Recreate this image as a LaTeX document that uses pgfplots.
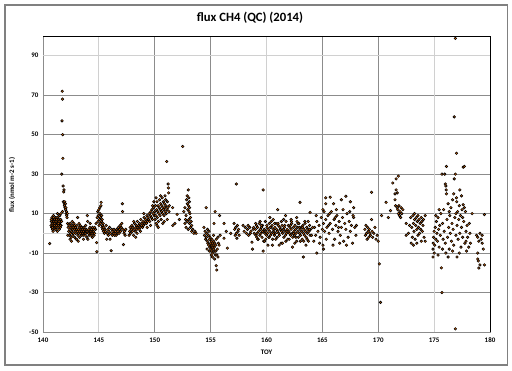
\documentclass[border=0pt]{standalone}
\usepackage{pgfplots}
\pgfplotsset{compat=1.18}
\usepackage{fontspec}
\setmainfont{Carlito}
\definecolor{dotorange}{HTML}{E46C0A}
\definecolor{gridgray}{HTML}{8C8C8C}
\definecolor{lightgrid}{HTML}{D0D0D0}
\pgfplotstableread{
x y
140.6 -5.2
140.72 4
140.75 6
140.78 3
140.8 8
140.82 5
140.85 2
140.88 7
140.9 4
140.93 9
140.95 6
140.98 3
141.0 5
141.02 7
141.05 4
141.08 2
141.1 6
141.12 8
141.15 5
141.18 3
141.2 7
141.22 4
141.25 6
141.28 1
141.3 5
141.32 8
141.35 3
141.38 6
141.4 4
141.42 7
141.45 2
141.48 5
141.5 9
141.52 6
141.55 3
141.58 7
141.6 10
141.62 4
140.74 7
140.84 3
140.96 8
141.06 5
141.16 2
141.26 8
141.36 5
141.46 9
141.56 4
141.66 6
140.9 1
141.3 10
141.72 72
141.74 68
141.7 57
141.76 50
141.78 38
141.68 30
141.8 24
141.85 21
141.88 22
141.82 16
141.9 15
141.92 14
141.95 16
141.97 13
142.0 15
142.02 12
142.05 13
142.08 10
142.1 11
142.12 9
142.15 8
142.18 10
141.75 11
142.2 5
142.25 3
142.3 1
142.33 4
142.37 -1
142.4 2
142.43 5
142.47 0
142.5 3
142.53 -2
142.57 1
142.6 4
142.63 2
142.67 -1
142.7 3
142.73 0
142.77 5
142.8 2
142.83 -2
142.87 1
142.9 3
142.93 0
142.97 -3
143.0 2
143.03 4
143.07 1
143.1 8
143.13 -1
143.17 2
143.2 0
143.23 3
143.27 -2
143.3 1
143.33 4
143.37 0
143.4 2
143.43 -1
143.47 1
143.5 3
143.53 0
143.57 2
143.6 -1
143.63 1
143.67 3
143.7 0
143.73 2
143.77 -1
143.8 1
143.83 0
143.87 2
143.9 1
143.93 -2
143.97 9
144.0 6
144.03 1
144.07 0
144.1 2
144.13 -1
144.17 1
144.2 3
144.23 0
144.27 1
144.3 -1
144.33 2
144.37 0
144.4 1
144.43 3
144.47 0
144.5 1
144.53 2
144.57 -1
144.6 0
142.22 -1
142.42 -3
142.62 6
142.82 4
143.02 -3
143.22 5
143.42 3
143.62 -3
143.82 4
144.02 -3
144.22 5
144.42 -2
144.62 3
143.15 -4
142.55 -4
144.7 2
144.75 5
144.8 -4.7
144.82 -9.3
144.85 8
144.9 11
144.92 6
144.95 9
145.0 12
145.02 4
145.05 7
145.08 13
145.1 10
145.12 5
145.15 8
145.18 14
145.2 15.7
145.22 6
145.25 9
145.28 3
145.3 7
145.32 4
145.35 2
145.38 5
145.4 1
145.45 3
145.5 0
145.55 2
145.6 1
145.65 4
145.7 -3
145.75 0
145.8 2
145.85 -1
145.9 1
145.95 3
146.0 -3
146.05 0
146.1 -8.8
146.15 2
146.2 -1
146.25 1
146.3 0
146.35 2
146.4 -1
146.45 0
146.5 1
146.55 -1
146.6 2
146.65 0
146.7 1
146.75 3
146.8 0
146.85 2
146.9 4
146.95 1
147.0 3
147.05 5
147.1 15
147.12 11
147.15 2
147.2 -5.7
147.25 0
147.3 1
147.35 -1
147.4 2
147.7 -1
147.75 1
147.8 3
147.85 0
147.9 2
147.95 4
148.0 1
148.05 3
148.1 -1
148.15 2
148.2 5
148.25 1
148.3 -2
148.32 3
148.35 4
148.4 2
148.45 6
148.5 3
148.55 4
148.6 2
148.65 5
148.7 3
148.75 7
148.8 4
148.85 5
148.9 3
148.95 6
149.0 4
149.05 8
149.1 5
149.15 6
149.2 7
149.25 5
149.3 9
149.35 6
149.4 8
149.45 7
149.5 10
149.55 6
149.6 9
149.65 11
149.7 8
149.75 12
149.8 7
149.85 10
149.9 13
149.95 9
148.12 6
148.42 0
148.72 1
149.02 10
149.32 3
149.62 4
149.92 16
150.12 18
150.32 3
150.52 19
150.72 5
150.92 19
151.12 7
150.2 4
150.85 6
149.8 14
150.0 11
150.03 7
150.07 14
150.1 9
150.13 5
150.17 12
150.2 16
150.23 8
150.27 11
150.3 14
150.33 6
150.37 10
150.4 13
150.43 17
150.47 9
150.5 12
150.53 15
150.57 7
150.6 11
150.63 14
150.67 18
150.7 10
150.73 13
150.77 16
150.8 12
150.83 9
150.87 15
150.9 13
150.93 11
150.97 17
151.0 14
151.03 10
151.07 36.4
151.1 12
151.13 16
151.17 13
151.2 25
151.22 23
151.24 20.5
151.27 11
151.3 14
151.6 13
151.62 4
151.8 5
152.0 9.6
152.2 7
152.5 44
152.6 11
152.7 13
152.8 9
152.85 17
152.9 19
152.92 15
152.95 12
153.0 22
153.02 14
153.05 18
153.08 11
153.1 16
153.12 13
153.15 10
153.2 8
153.25 6
153.3 4
152.7 5
152.75 7
152.8 3
152.9 6
153.0 2
153.1 5
153.2 3
153.3 1
153.4 2
153.5 0
153.6 1
153.7 0
153.05 7
154.4 3
154.45 -1
154.5 1
154.55 -3
154.6 13
154.62 -2
154.65 0
154.7 -4
154.72 2
154.75 -5
154.8 -1
154.82 -6
154.85 1
154.9 -3
154.92 -7
154.95 -2
155.0 -5
155.02 -8
155.05 -4
155.08 -6
155.1 -9
155.12 -3
155.15 -7
155.18 -5
155.2 -10
155.22 -6
155.25 -8
155.28 -4
155.3 5
155.32 -7
155.35 -9
155.38 -5
155.4 11
155.42 -11
155.45 -6
155.5 -16.4
155.55 -18.6
155.5 -3
155.6 -8
155.65 -2
155.7 -5
155.8 9
155.85 -1
154.88 -9
155.06 -11
155.16 -12
155.26 -1
155.36 -13
155.46 -9
154.68 -8
155.56 -11
155.66 -12
155.76 -6
156.2 5
156.2 -2.5
156.4 1
156.5 -7.5
156.8 0
157.3 25
157.1 5
157.15 2
157.2 -1
157.25 3
157.3 0
157.35 -2.5
157.4 4
157.45 1
157.5 2
157.55 -1
157.9 4
158.0 1
158.1 3
158.2 0
158.3 2
158.35 4
158.4 -1
158.5 3
158.55 0
158.6 1
158.7 -4.5
158.75 -8
158.8 2
158.85 3
158.9 0
159.0 2
159.05 -1
159.1 4
159.15 0
159.2 3
159.25 -3
159.3 1
159.35 5
159.4 -1
159.45 2
159.5 0
159.55 3
159.6 -2
159.65 4
159.7 1
159.75 -4
159.8 2
159.85 0
159.9 6
159.95 1
160.0 -1
160.05 3
160.1 0
160.15 2
160.2 -2
160.25 5
160.3 1
160.35 -1
160.4 3
160.45 0
160.5 4
160.55 -3
160.6 2
160.65 1
160.7 -1
160.75 3
160.8 0
160.85 5
160.9 2
160.95 -2
161.0 1
161.05 4
161.1 0
161.15 -1
161.2 3
161.25 2
161.3 -5
161.35 1
161.4 4
161.45 0
161.5 2
161.55 -2
161.6 3
161.65 1
161.7 -1
161.75 6
161.8 0
161.85 2
161.9 -3
161.95 4
162.0 1
162.05 0
162.1 3
162.15 -1
162.2 2
162.25 5
162.3 0
162.35 -2
162.4 3
162.45 1
162.5 -1
162.55 4
162.6 2
162.65 0
162.7 -4
162.75 3
162.8 1
162.85 -2
162.9 5
162.95 0
163.0 2
163.05 -1
163.1 3
163.15 1
163.2 -3
163.25 4
163.3 0
163.35 2
163.4 -1
163.45 5
163.5 1
163.55 -2
163.6 3
163.65 0
163.7 2
163.75 -4
163.8 1
163.85 4
163.9 -1
163.95 2
159.03 5
159.23 -3
159.43 6
159.63 1
159.83 -4
160.03 4
160.23 -2
160.43 6
160.63 0
160.83 -3
161.03 5
161.23 2
161.43 -5
161.63 4
161.83 1
162.03 -3
162.23 6
162.43 0
162.63 -2
162.83 5
163.03 -4
163.23 3
163.43 6
163.63 -3
163.83 2
164.03 -1
160.13 -6
161.13 -6
162.33 -7
163.53 -6
159.13 -2
159.53 4
159.93 -3
160.33 3
160.73 5
161.33 6
161.73 -4
162.13 4
162.53 -5
162.93 3
163.33 -4
163.73 6
164.13 3
164.23 -4
160.53 -6
161.53 7
162.73 6
159.7 22
159.7 -9
163.3 -12
161.0 12
163.0 15.7
163.9 10.6
160.3 8
160.6 7
162.2 7
161.7 9
162.7 8
164.3 3
164.4 -1
164.5 -10
164.5 6
164.6 1
164.7 4
164.8 -2
164.9 8
165.0 2
165.05 -6
165.1 -8
165.1 5
165.15 11
165.2 1
165.3 18
165.3 15
165.3 7
165.4 3
165.5 9
165.6 0
165.7 18.3
165.7 5
165.8 11
165.9 2
166.0 15
166.05 7
166.1 -3
166.2 4
166.3 9
166.4 1
166.5 6
166.6 -1
166.7 17
166.7 3
166.8 8
166.9 -4
167.0 5
167.1 18.8
167.1 2
167.2 10
167.3 -2
167.4 6
167.5 16
167.5 1
167.6 4
167.7 -5
167.8 13
167.8 8
167.9 3
168.0 -1
164.45 9
164.75 -5
165.05 12
165.35 -3
165.65 10
165.95 -6
166.25 12
166.55 -5
166.85 12
167.15 -6
167.45 11
167.75 9
168.05 4
166.15 8
166.45 3
165.55 4
168.8 2
168.85 -1
168.9 4
168.95 0
169.0 -3
169.05 3
169.1 1
169.15 -2
169.2 2
169.25 0
169.3 -1
169.4 7
169.4 20.8
169.45 1
169.5 -2
169.6 0
169.7 3
169.8 -3
169.9 -1
170.0 -4
170.1 -15.5
170.2 -35
170.3 9
170.7 15.7
170.9 8
171.1 11.5
171.3 25.5
171.5 20
171.5 17
171.55 14
171.6 27.6
171.6 22
171.7 13
171.7 20.5
171.75 12
171.8 29
171.8 10
171.85 14
171.9 9
171.95 11
172.0 8
172.05 13
172.1 10
172.2 12
172.5 -1
172.5 5
172.7 0
172.9 8
173.0 3
173.05 -2
173.1 9
173.15 5
173.2 1
173.25 7
173.3 -3
173.35 4
173.4 8
173.45 2
173.5 6
173.55 -1
173.6 3
173.65 7
173.7 0
173.75 5
173.8 2
173.85 -4
173.9 6
173.95 1
174.0 4
174.1 -2
174.2 -4
174.2 9
172.95 -5
173.25 10
173.55 9
173.85 8
173.15 -6
173.45 -5
174.05 7
172.8 4
174.9 -12
174.9 -8
174.92 -5
174.95 -2
175.0 -10
175.0 1
175.05 -6
175.1 3
175.15 -3
175.2 6
175.25 0
175.3 -4
175.35 8
175.4 2
175.45 -7
175.5 4
175.55 -1
175.6 10
175.65 -17.5
175.7 -30
175.7 30
175.75 5
175.8 -3
175.85 12
175.9 1
175.95 30
176.0 25
176.0 -5
176.05 24
176.08 22
176.1 20
176.1 33.9
176.15 7
176.2 -2
176.25 15
176.3 3
176.35 -8
176.4 9
176.45 0
176.5 13
176.55 -4
176.6 5
176.65 17
176.7 2
176.75 -6
176.8 27.6
176.8 59
176.85 8
176.9 98.8
176.9 -48.4
176.9 30
176.95 -1
177.0 40.6
177.0 18
177.02 16
177.05 4
177.1 11
177.15 -3
177.2 7
177.25 14
177.3 22
177.3 0
177.35 9
177.4 -7
177.45 3
177.5 12
177.55 -2
177.6 14.5
177.6 33.5
177.65 6
177.7 13
177.7 33.9
177.75 -5
177.8 11
177.85 1
177.9 -9
177.95 4
178.0 -2
178.1 -7
178.2 0
178.4 10
175.15 9
175.45 12
175.75 -8
176.05 -10
176.35 11
176.65 -9
176.95 10
177.25 -10
177.55 8
177.85 -4
178.15 5
178.25 -5
175.35 -11
176.75 20
177.45 19
176.25 -12
177.05 -12
178.8 -1
178.9 -2
178.9 -10
178.9 -13
178.95 -14
179.0 -17.6
179.0 -4
179.1 -16
179.1 0
179.2 -3
179.3 -1
179.3 -5
179.4 -8
179.5 9.5
179.5 -16
}\fluxdata
\begin{document}
\begin{tikzpicture}
\begin{axis}[
  scale only axis,
  width=335.25pt, height=222pt,
  xmin=140, xmax=180, ymin=-50, ymax=100,
  xtick={140,145,...,180},
  ytick={-50,-30,...,90},
  grid=none,
  axis line style={gridgray, line width=0.6pt},
  tick style={draw=none},
  /pgf/number format/assume math mode=true,
  ticklabel style={font=\bfseries\fontsize{5.2}{6}\selectfont},
  xticklabel style={yshift=-1pt},
  clip=false,
  every axis title shift=0pt,
  title={flux CH4 (QC) (2014)},
  title style={font=\bfseries\fontsize{9.5}{11}\selectfont, at={(0.463,1.061)}, anchor=center, yshift=0pt},
  xlabel={TOY},
  xlabel style={font=\bfseries\fontsize{5.2}{6}\selectfont, at={(0.5,-0.068)}, anchor=center},
  ylabel={flux (nmol m-2 s-1)},
  ylabel style={font=\bfseries\fontsize{5.2}{6}\selectfont, at={(-0.069,0.497)}, anchor=center},
]
% invisible frame fixing the picture's size
\path (rel axis cs:-0.0962,-0.1284) rectangle (rel axis cs:1.0492,1.1216);
% grid lines
\draw[color=gridgray, line width=0.6pt]
  (axis cs:150,-50) -- (axis cs:150,100)
  (axis cs:155,-50) -- (axis cs:155,100)
  (axis cs:165,-50) -- (axis cs:165,100)
  (axis cs:170,-50) -- (axis cs:170,100)
  (axis cs:140,-30) -- (axis cs:180,-30)
  (axis cs:140,-10) -- (axis cs:180,-10)
  (axis cs:140,10) -- (axis cs:180,10)
  (axis cs:140,30) -- (axis cs:180,30)
  (axis cs:140,50) -- (axis cs:180,50)
  (axis cs:140,70) -- (axis cs:180,70);
\draw[color=lightgrid, line width=0.8pt]
  (axis cs:145,-50) -- (axis cs:145,100)
  (axis cs:160,-50) -- (axis cs:160,100)
  (axis cs:175,-50) -- (axis cs:175,100)
  (axis cs:140,90) -- (axis cs:180,90)
  (axis cs:140,0) -- (axis cs:180,0);
\draw[black, line width=0.7pt] (rel axis cs:0,1) -- (rel axis cs:1,1) -- (rel axis cs:1,0);
\addplot[only marks, mark=*, mark size=0.95pt, mark options={draw=black, fill=dotorange, line width=0.45pt}] table[x=x,y=y] {\fluxdata};
\draw[color=black!50, line width=0.9pt] (rel axis cs:-0.085,-0.1115) rectangle (rel axis cs:1.040,1.105);
\end{axis}
\end{tikzpicture}
\end{document}
